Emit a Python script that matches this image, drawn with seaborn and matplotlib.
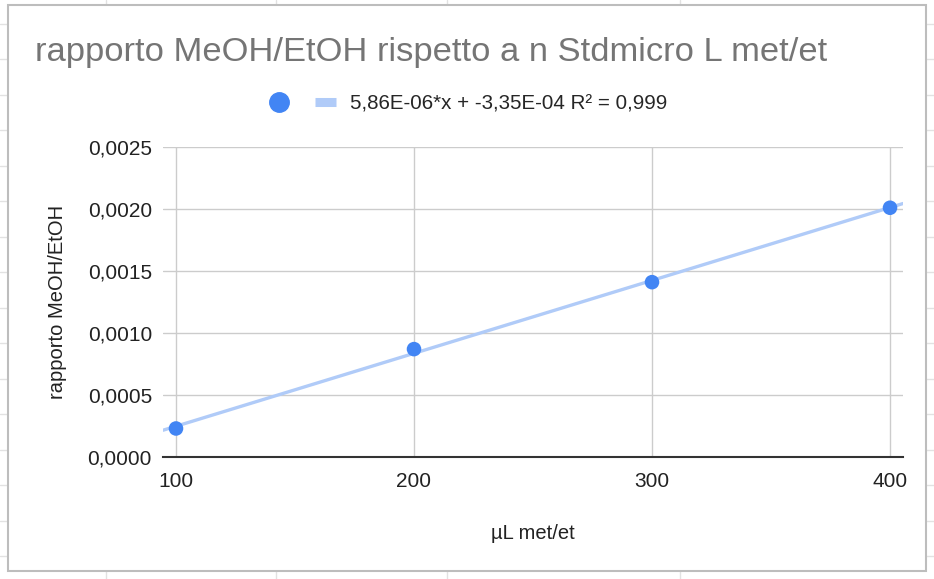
import matplotlib
matplotlib.use("Agg")
import matplotlib.pyplot as plt
from matplotlib.lines import Line2D
from matplotlib.legend_handler import HandlerTuple
from matplotlib.patches import Rectangle
from matplotlib.ticker import FuncFormatter, MultipleLocator
import pandas as pd
import seaborn as sns

# ---------- data ----------
ul_met_et = [100, 200, 300, 400]
ratio_meoh_etoh = [0.00023, 0.00087, 0.00141, 0.00201]
trend_label = "5,86E-06*x + -3,35E-04 R² = 0,999"

TITLE = "rapporto MeOH/EtOH rispetto a n Stdmicro L met/et"
XLABEL = "µL met/et"
YLABEL = "rapporto MeOH/EtOH"

df = pd.DataFrame({"x": ul_met_et, "y": ratio_meoh_etoh})

sns.set_style("white")
plt.rcParams["font.family"] = ["Liberation Sans", "DejaVu Sans"]

POINT = "#4285f4"
TREND = "#b0cbf8"
GRID = "#cccccc"

W, H = 934, 579
fig = plt.figure(figsize=(W / 100, H / 100), dpi=100)

# spreadsheet cells behind the chart card
for yy in [23.5 + 35.5 * k for k in range(16)]:
    fig.add_artist(Line2D([0, 1], [1 - yy / H] * 2, color="#e2e2e2", lw=1, zorder=-2))
for xx in [106, 276, 447, 680]:
    fig.add_artist(Line2D([xx / W] * 2, [0, 1], color="#e2e2e2", lw=1, zorder=-2))
fig.add_artist(Rectangle((8 / W, 1 - 571 / H), (926 - 8) / W, (571 - 5) / H,
                         facecolor="white", edgecolor="#bdbdbd", lw=1.5, zorder=-1))

ax = fig.add_axes([163 / W, 1 - 457 / H, (903 - 163) / W, (457 - 147) / H])
ax.set_facecolor("none")
ax.set_xlim(94.54, 405.46)
ax.set_ylim(0, 0.0025)

sns.regplot(data=df, x="x", y="y", ax=ax, scatter=False, ci=None, truncate=False,
            line_kws=dict(color=TREND, lw=2.4, zorder=2))
sns.scatterplot(data=df, x="x", y="y", ax=ax, s=110, color=POINT, edgecolor="none",
                zorder=3, legend=False)

ax.xaxis.set_major_locator(MultipleLocator(100))
ax.yaxis.set_major_locator(MultipleLocator(0.0005))
ax.yaxis.set_major_formatter(FuncFormatter(lambda v, _: f"{v:.4f}".replace(".", ",")))
ax.grid(True, color=GRID, lw=1)
ax.set_axisbelow(True)
for s in ["top", "right", "left"]:
    ax.spines[s].set_visible(False)
ax.spines["bottom"].set_color("#333333")
ax.spines["bottom"].set_linewidth(1.5)
ax.spines["bottom"].set_zorder(2.5)
ax.tick_params(axis="both", length=0, labelsize=15, colors="#222222")
ax.tick_params(axis="y", pad=8)
ax.tick_params(axis="x", pad=11)

ax.set_xlabel(XLABEL, fontsize=14.5, color="#222222")
ax.set_ylabel(YLABEL, fontsize=14.5, color="#222222")
ax.xaxis.set_label_coords(0.5, -0.215)
ax.yaxis.set_label_coords(-0.13, 0.5)

fig.text(35 / W, 1 - 52 / H, TITLE, ha="left", va="center", fontsize=24.8, color="#757575")

dot = Line2D([], [], marker="o", ls="none", color=POINT, markersize=14)
seg = Line2D([], [], color=TREND, lw=6.5, solid_capstyle="butt")
fig.legend(handles=[(dot, seg)], labels=[trend_label], loc="center",
           bbox_to_anchor=(468 / W, 1 - 104 / H), frameon=False, fontsize=14.8,
           handlelength=3.3, handletextpad=0.68,
           handler_map={tuple: HandlerTuple(ndivide=None, pad=1.26)})

fig.savefig("out.png", dpi=100)
